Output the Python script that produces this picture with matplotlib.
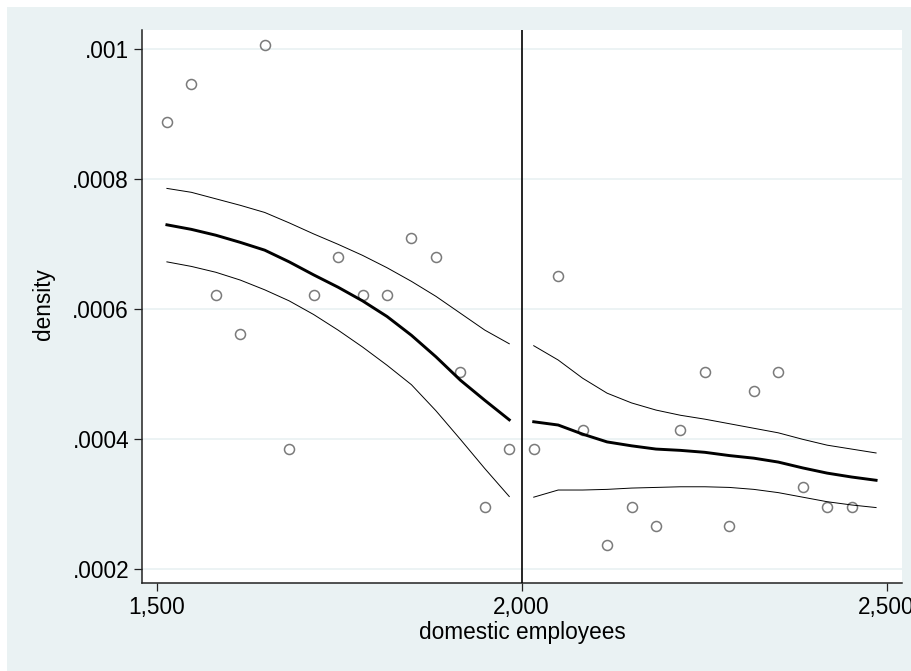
import matplotlib
matplotlib.use("Agg")
import matplotlib.pyplot as plt
from matplotlib.patches import Rectangle

plt.rcParams['font.family'] = ['Liberation Sans', 'DejaVu Sans']

# ---- data ----
left_bins = [1514, 1547.5, 1581, 1614.5, 1648, 1681.5, 1715, 1748.5, 1782, 1815.5,
             1849, 1882.5, 1916, 1949.5, 1983]
left_density = [0.000888, 0.000947, 0.000622, 0.000562, 0.001006, 0.000385, 0.000622,
                0.000681, 0.000622, 0.000622, 0.000710, 0.000681, 0.000503, 0.000296,
                0.000385]
left_fit = [0.000730, 0.000723, 0.000714, 0.000703, 0.000691, 0.000673, 0.000653,
            0.000634, 0.000613, 0.000589, 0.000560, 0.000527, 0.000491, 0.000460,
            0.000430]
left_ci_hi = [0.000786, 0.000780, 0.000770, 0.000760, 0.000749, 0.000733, 0.000716,
              0.000700, 0.000683, 0.000664, 0.000643, 0.000620, 0.000594, 0.000568,
              0.000547]
left_ci_lo = [0.000673, 0.000666, 0.000657, 0.000645, 0.000630, 0.000613, 0.000592,
              0.000568, 0.000542, 0.000514, 0.000484, 0.000444, 0.000400, 0.000355,
              0.000312]

right_bins = [2016.5, 2050, 2083.5, 2117, 2150.5, 2184, 2217.5, 2251, 2284.5, 2318,
              2351.5, 2385, 2418.5, 2452, 2485.5]
right_density = [0.000385, 0.000651, 0.000414, 0.000237, 0.000296, 0.000266, 0.000414,
                 0.000503, 0.000266, 0.000474, 0.000503, 0.000326, 0.000296, 0.000296]
right_fit = [0.000427, 0.000422, 0.000408, 0.000396, 0.000390, 0.000385, 0.000383,
             0.000380, 0.000375, 0.000371, 0.000365, 0.000356, 0.000348, 0.000342,
             0.000337]
right_ci_hi = [0.000544, 0.000522, 0.000494, 0.000471, 0.000456, 0.000445, 0.000437,
               0.000431, 0.000424, 0.000417, 0.000410, 0.000400, 0.000391, 0.000385,
               0.000379]
right_ci_lo = [0.000311, 0.000322, 0.000322, 0.000323, 0.000325, 0.000326, 0.000327,
               0.000327, 0.000326, 0.000323, 0.000318, 0.000311, 0.000304, 0.000299,
               0.000295]

cutoff = 2000
x_ticks = [1500, 2000, 2500]
x_ticklabels = ['1,500', '2,000', '2,500']
y_ticks = [0.0002, 0.0004, 0.0006, 0.0008, 0.001]
y_ticklabels = ['.0002', '.0004', '.0006', '.0008', '.001']
x_label = 'domestic employees'
y_label = 'density'

# ---- figure ----
W, H = 912, 671
fig = plt.figure(figsize=(W / 100, H / 100), dpi=100)
fig.patch.set_facecolor('white')
bg = '#EAF2F3'
fig.add_artist(Rectangle((7 / W, 0), 1, (H - 7) / H, transform=fig.transFigure,
                         facecolor=bg, edgecolor='none', zorder=-10))

ax_l, ax_r, ax_t, ax_b = 142.3, 902.0, 30.0, 583.3
ax = fig.add_axes([ax_l / W, (H - ax_b) / H, (ax_r - ax_l) / W, (ax_b - ax_t) / H])
ax.set_zorder(1)
ax.set_facecolor('white')

for yt in y_ticks:
    ax.axhline(yt, color=bg, lw=1.3, zorder=1)

circ = dict(marker='o', linestyle='none', markersize=7.2, markerfacecolor='none',
            markeredgecolor='#7a7a7a', markeredgewidth=1.1, zorder=3)
ax.plot(left_bins, left_density, **circ)
ax.plot(right_bins[:len(right_density)], right_density, **circ)

ax.plot(left_bins, left_fit, color='black', lw=2.1, zorder=4)
ax.plot(left_bins, left_ci_hi, color='black', lw=0.7, zorder=4)
ax.plot(left_bins, left_ci_lo, color='black', lw=0.7, zorder=4)
ax.plot(right_bins, right_fit, color='black', lw=2.1, zorder=4)
ax.plot(right_bins, right_ci_hi, color='black', lw=0.7, zorder=4)
ax.plot(right_bins, right_ci_lo, color='black', lw=0.7, zorder=4)

ax.axvline(cutoff, color='black', lw=1.2, zorder=5)

ax.set_xlim(1480.3, 2521)
ax.set_ylim(0.0001785, 0.0010297)

ax.set_xticks(x_ticks)
ax.set_xticklabels(x_ticklabels)
ax.set_yticks(y_ticks)
ax.set_yticklabels(y_ticklabels)

for s in ['top', 'right']:
    ax.spines[s].set_visible(False)
for s in ['left', 'bottom']:
    ax.spines[s].set_color('#222222')
    ax.spines[s].set_linewidth(1.1)

fs = 16.3
ax.tick_params(axis='both', direction='out', length=6, width=0.9, color='#222222',
               labelsize=fs, labelcolor='black')
ax.tick_params(axis='x', pad=3)
ax.tick_params(axis='y', pad=3.5)
for lbl in ax.get_xticklabels() + ax.get_yticklabels():
    lbl.set_clip_on(False)

ax.set_xlabel(x_label, fontsize=fs, va='center')
ax.xaxis.set_label_coords((522 - ax_l) / (ax_r - ax_l), -(632 - ax_b) / (ax_b - ax_t))
ax.set_ylabel(y_label, fontsize=fs, va='center')
ax.yaxis.set_label_coords(-(ax_l - 44) / (ax_r - ax_l), (ax_b - 304) / (ax_b - ax_t))

fig.savefig('out.png', dpi=100, facecolor=fig.get_facecolor())
